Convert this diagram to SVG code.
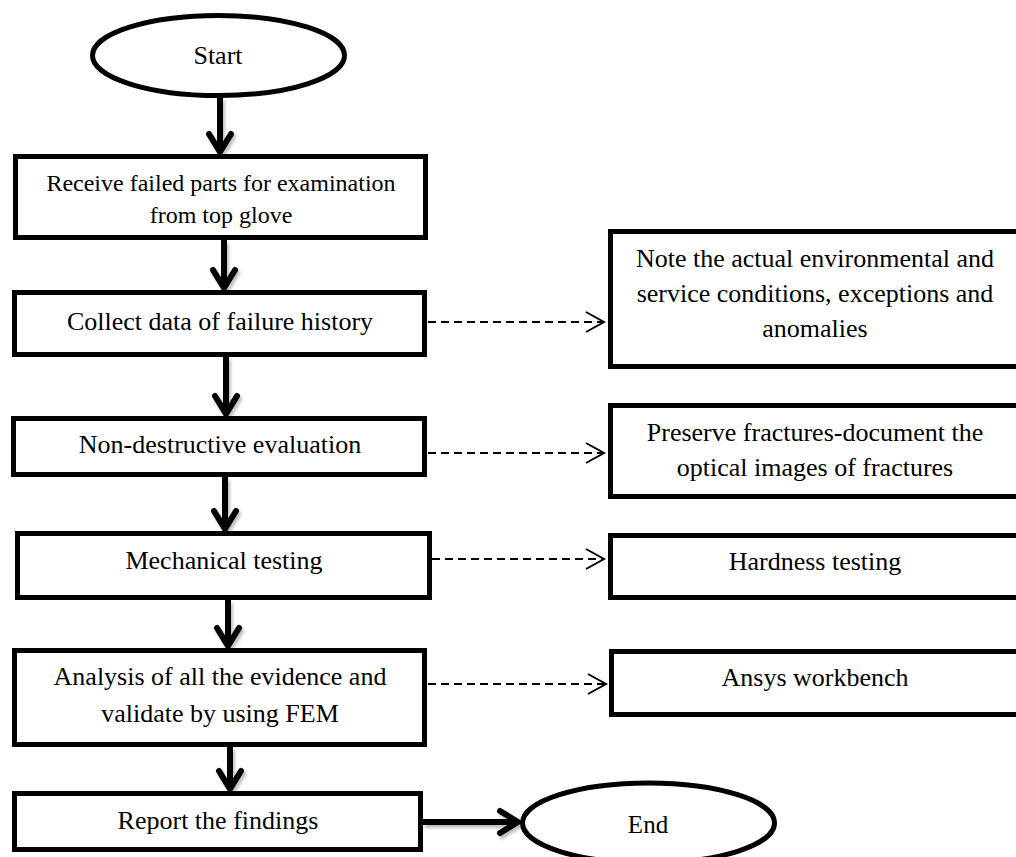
<svg xmlns="http://www.w3.org/2000/svg" width="1016" height="857" viewBox="0 0 1016 857">
<defs>
<filter id="sh" x="-50%" y="-20%" width="200%" height="160%">
<feDropShadow dx="2" dy="3" stdDeviation="1.5" flood-color="#000" flood-opacity="0.25"/>
</filter>
<style>
.box{fill:#fff;stroke:#000;stroke-width:5}
.t{font-family:"Liberation Serif","Times New Roman",serif;font-size:26px;fill:#000;text-anchor:middle}
.s{font-size:24px}
.main{stroke:#000;stroke-width:6;fill:none}
.head{stroke:#000;stroke-width:6;fill:none;stroke-linecap:round;stroke-linejoin:round}
.dash{stroke:#000;stroke-width:2;fill:none;stroke-dasharray:8 5}
.dhead{stroke:#000;stroke-width:2;fill:none}
</style>
</defs>
<rect width="1016" height="857" fill="#fff"/>
<g id="connectors">
<g filter="url(#sh)">
<line x1="220" y1="98" x2="220" y2="150" class="main"/>
<polyline points="209,134 220,152 231,134" class="head"/>
<line x1="224" y1="240" x2="224" y2="286" class="main"/>
<polyline points="213,270 224,288 235,270" class="head"/>
<line x1="226" y1="357" x2="226" y2="412" class="main"/>
<polyline points="215,396 226,414 237,396" class="head"/>
<line x1="225" y1="477" x2="225" y2="527" class="main"/>
<polyline points="214,511 225,529 236,511" class="head"/>
<line x1="228" y1="600" x2="228" y2="644" class="main"/>
<polyline points="217,628 228,646 239,628" class="head"/>
<line x1="230" y1="747" x2="230" y2="787" class="main"/>
<polyline points="219,771 230,789 241,771" class="head"/>
<line x1="423" y1="822" x2="516" y2="822" class="main"/>
<polyline points="500,811 518,822 500,833" class="head"/>
</g>
<line x1="428" y1="322" x2="602" y2="322" class="dash"/>
<polyline points="586,312 604,322 586,332" class="dhead"/>
<line x1="428" y1="453" x2="602" y2="453" class="dash"/>
<polyline points="586,443 604,453 586,463" class="dhead"/>
<line x1="432" y1="559" x2="602" y2="559" class="dash"/>
<polyline points="586,549 604,559 586,569" class="dhead"/>
<line x1="428" y1="684" x2="604" y2="684" class="dash"/>
<polyline points="588,674 606,684 588,694" class="dhead"/>
</g>
<g id="start">
<ellipse cx="218.5" cy="55.5" rx="126" ry="40" class="box"/>
<text x="218" y="64" class="t">Start</text>
</g>
<g id="receive">
<rect x="15.5" y="156.5" width="410" height="81" class="box"/>
<text x="221" y="191" class="t s">Receive failed parts for examination</text>
<text x="221" y="223" class="t s">from top glove</text>
</g>
<g id="collect">
<rect x="14.5" y="292.5" width="410" height="62" class="box"/>
<text x="220" y="330" class="t">Collect data of failure history</text>
</g>
<g id="nde">
<rect x="13.5" y="418.5" width="411" height="56" class="box"/>
<text x="220" y="453" class="t">Non-destructive evaluation</text>
</g>
<g id="mech">
<rect x="17.5" y="533.5" width="412" height="64" class="box"/>
<text x="224" y="569" class="t">Mechanical testing</text>
</g>
<g id="analysis">
<rect x="14.5" y="650.5" width="410" height="94" class="box"/>
<text x="220" y="685" class="t">Analysis of all the evidence and</text>
<text x="220" y="722" class="t">validate by using FEM</text>
</g>
<g id="report">
<rect x="14.5" y="793.5" width="406" height="56" class="box"/>
<text x="218" y="829" class="t">Report the findings</text>
</g>
<g id="end">
<ellipse cx="648.5" cy="823" rx="126" ry="40" class="box"/>
<text x="648" y="833" class="t" style="font-size:25px">End</text>
</g>
<g id="note">
<rect x="610.5" y="231.5" width="420" height="135" class="box"/>
<text x="815" y="267" class="t">Note the actual environmental and</text>
<text x="815" y="302" class="t">service conditions, exceptions and</text>
<text x="815" y="337" class="t">anomalies</text>
</g>
<g id="preserve">
<rect x="610.5" y="405.5" width="420" height="91" class="box"/>
<text x="815" y="441" class="t">Preserve fractures-document the</text>
<text x="815" y="476" class="t">optical images of fractures</text>
</g>
<g id="hardness">
<rect x="610.5" y="535.5" width="420" height="62" class="box"/>
<text x="815" y="570" class="t">Hardness testing</text>
</g>
<g id="ansys">
<rect x="611.5" y="651.5" width="420" height="63" class="box"/>
<text x="815" y="686" class="t">Ansys workbench</text>
</g>
</svg>
